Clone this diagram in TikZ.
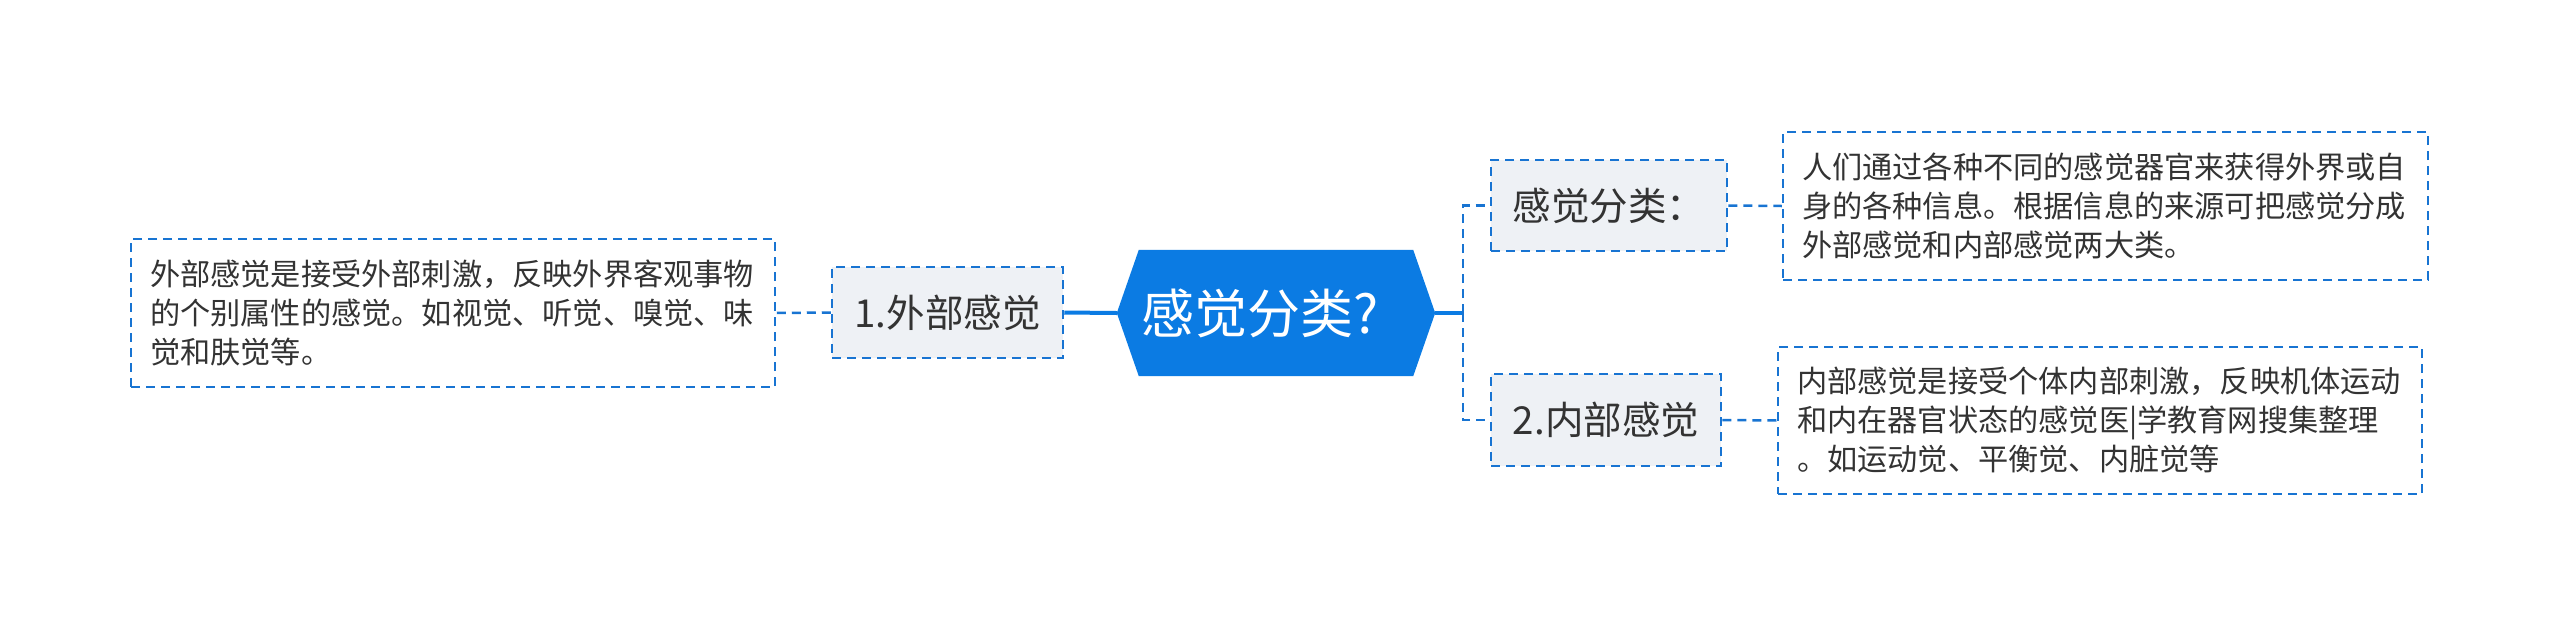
\documentclass[tikz,border=0pt]{standalone}
\usepackage{fontspec}
\setmainfont{Noto Sans CJK SC}
\usetikzlibrary{backgrounds}
\definecolor{hexblue}{HTML}{0B7BE3}
\definecolor{lineblue}{HTML}{1874D2}
\definecolor{boxgray}{HTML}{EEF1F5}
\definecolor{txt}{HTML}{333333}
\tikzset{
  dashline/.style={draw=lineblue, line width=2.5pt, dash pattern=on 9pt off 6pt},
  subnode/.style={dashline, fill=boxgray, text=txt, inner sep=0pt, font={\fontsize{38.5pt}{46pt}\selectfont}},
  textbox/.style={dashline, fill=white, text=txt, align=left, inner ysep=0pt, font={\fontsize{30.2pt}{39pt}\selectfont}},
  solidline/.style={draw=hexblue, line width=4pt},
}
\begin{document}
\begin{tikzpicture}[x=1pt, y=-1pt]
\useasboundingbox (0,0) rectangle (2560,627);
% central node
\node[minimum width=318pt, minimum height=126pt, inner sep=0pt, text=white, font={\fontsize{53pt}{60pt}\selectfont}] (hex) at (1276,313) {\hspace*{-32pt}感觉分类?};
\begin{scope}[on background layer]
\fill[hexblue] (hex.west) -- ([xshift=22pt]hex.north west) -- ([xshift=-22pt]hex.north east) -- (hex.east) -- ([xshift=-22pt]hex.south east) -- ([xshift=22pt]hex.south west) -- cycle;
\end{scope}
% left branch
\node[subnode, minimum width=231pt, minimum height=91pt] (n1) at (947.5,312.5) {1.外部感觉};
\node[textbox, text width=606pt, inner xsep=19pt, minimum height=148pt] (L) at (453,313) {外部感觉是接受外部刺激，反映外界客观事物\\的个别属性的感觉。如视觉、听觉、嗅觉、味\\觉和肤觉等。};
% right branch
\node[subnode, minimum width=236pt, minimum height=91pt] (c1) at (1609,205.5) {感觉分类：};
\node[subnode, minimum width=230pt, minimum height=92pt] (c2) at (1606,420) {2.内部感觉};
\node[textbox, text width=607pt, inner xsep=19pt, minimum height=148pt] (R1) at (2105.5,206) {人们通过各种不同的感觉器官来获得外界或自\\身的各种信息。根据信息的来源可把感觉分成\\外部感觉和内部感觉两大类。};
\node[textbox, text width=606pt, inner xsep=19pt, minimum height=147pt] (R2) at (2100,420.5) {内部感觉是接受个体内部刺激，反映机体运动\\和内在器官状态的感觉医|学教育网搜集整理\\。如运动觉、平衡觉、内脏觉等};
% connectors
\coordinate (j) at (1463,313);
\begin{scope}[on background layer]
\draw[solidline] (hex.west) -- (n1.east);
\draw[solidline] (hex.east) -- (j);
\end{scope}
\draw[dashline] (n1.west) -- (L.east);
\draw[dashline] (j) |- (c1.west);
\draw[dashline] (j) |- (c2.west);
\draw[dashline] (c1.east) -- (R1.west);
\draw[dashline] (c2.east) -- (R2.west);
\end{tikzpicture}
\end{document}
